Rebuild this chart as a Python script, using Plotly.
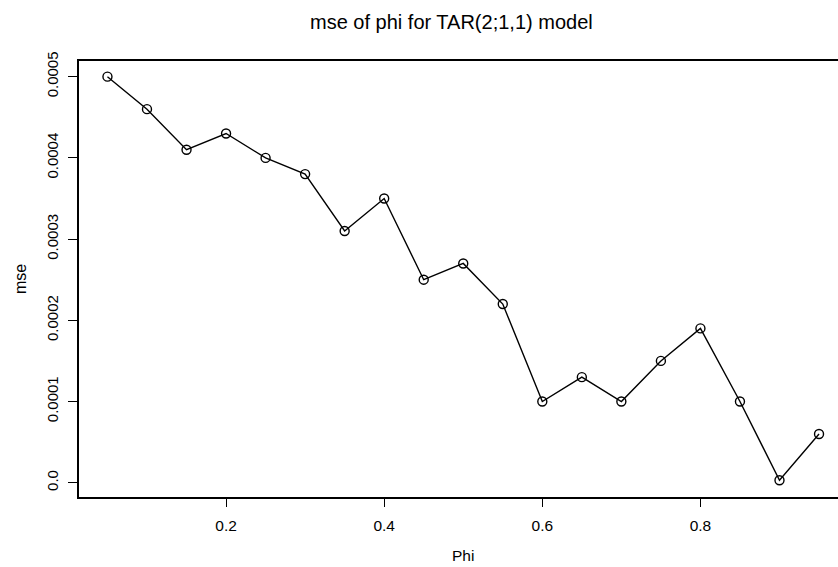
import plotly.graph_objects as go

phi = [0.05, 0.10, 0.15, 0.20, 0.25, 0.30, 0.35, 0.40, 0.45, 0.50,
       0.55, 0.60, 0.65, 0.70, 0.75, 0.80, 0.85, 0.90, 0.95]
mse = [0.00050, 0.00046, 0.00041, 0.00043, 0.00040, 0.00038, 0.00031, 0.00035,
       0.00025, 0.00027, 0.00022, 0.00010, 0.00013, 0.00010, 0.00015, 0.00019,
       0.00010, 0.000003, 0.00006]

x_ticks = [0.2, 0.4, 0.6, 0.8]
x_ticklabels = ["0.2", "0.4", "0.6", "0.8"]
y_ticks = [0.0, 0.0001, 0.0002, 0.0003, 0.0004, 0.0005]
y_ticklabels = ["0.0", "0.0001", "0.0002", "0.0003", "0.0004", "0.0005"]

title_text = "mse of phi for TAR(2;1,1) model"
x_title = "Phi"
y_title = "mse"

W, H = 838, 567
L, T, B = 79, 61, 70
PW = W - L
PH = H - T - B
FONT = "Liberation Sans, Arial, Helvetica, sans-serif"


def px_to_paper(px, py):
    return (px - L) / PW, (H - B - py) / PH


fig = go.Figure()
fig.add_trace(go.Scatter(
    x=phi, y=mse, mode="lines+markers",
    line=dict(color="black", width=1.4),
    marker=dict(symbol="circle-open", size=9, color="black", line=dict(width=1.4, color="black")),
    showlegend=False, hoverinfo="skip",
))

fig.update_layout(
    width=W, height=H,
    margin=dict(l=L, r=0, t=T, b=B, pad=0),
    paper_bgcolor="white", plot_bgcolor="white",
    font=dict(family=FONT, color="black", size=15),
    xaxis=dict(range=[0.014, 0.974], tickvals=x_ticks, ticktext=x_ticklabels,
               showgrid=False, zeroline=False, showline=True, mirror=True,
               linecolor="black", linewidth=1.5, ticks="outside", ticklen=8,
               tickwidth=1.4, tickcolor="black", tickfont=dict(size=15.5),
               ticklabelstandoff=6),
    yaxis=dict(range=[-0.0000176, 0.0005193], tickvals=y_ticks, ticktext=y_ticklabels,
               showgrid=False, zeroline=False, showline=True, mirror=False,
               linecolor="black", linewidth=1.5, ticks="outside", ticklen=9,
               tickwidth=1.4, tickcolor="black", tickangle=-90, tickfont=dict(size=15),
               ticklabelstandoff=4),
)

tx, ty = px_to_paper(451, 22)
ax_, ay_ = px_to_paper(463, 555)
mx, my = px_to_paper(20, 279)
fig.add_annotation(text=title_text, x=tx, y=ty, xref="paper", yref="paper",
                   showarrow=False, xanchor="center", yanchor="middle",
                   font=dict(size=20, family=FONT, color="black"))
fig.add_annotation(text=x_title, x=ax_, y=ay_, xref="paper", yref="paper",
                   showarrow=False, xanchor="center", yanchor="middle",
                   font=dict(size=15.5, family=FONT, color="black"))
fig.add_annotation(text=y_title, x=mx, y=my, xref="paper", yref="paper",
                   showarrow=False, xanchor="center", yanchor="middle", textangle=-90,
                   font=dict(size=16, family=FONT, color="black"))

fig.write_html("out.html")
